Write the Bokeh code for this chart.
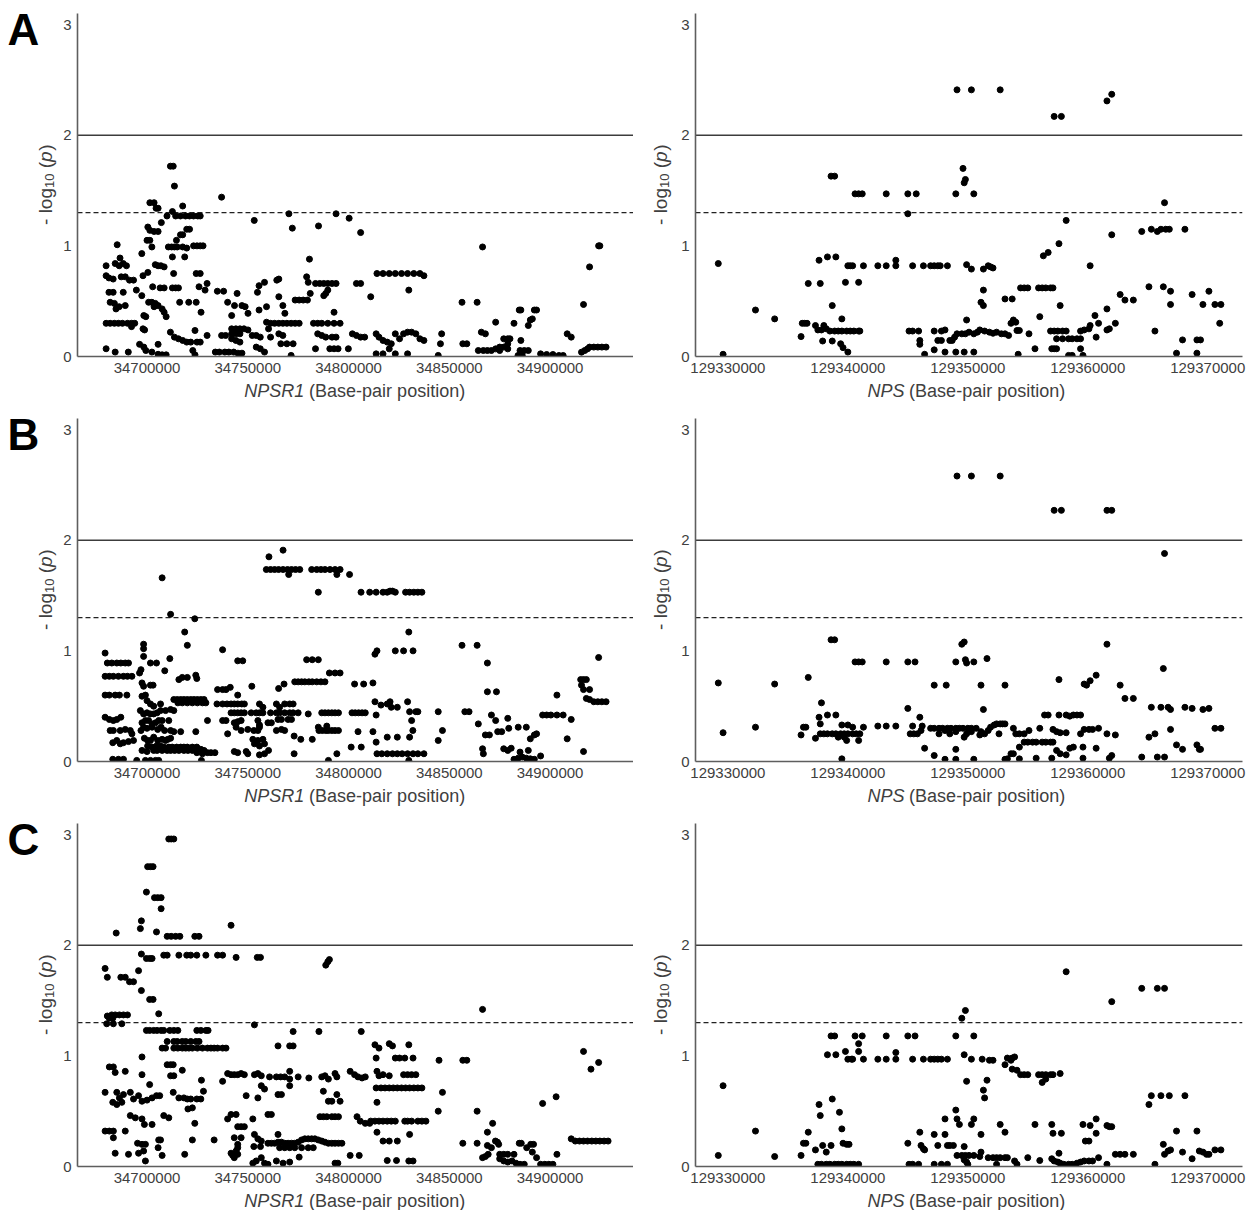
from bokeh.plotting import figure
from bokeh.layouts import row, column
from bokeh.models import Span, FixedTicker, BasicTickFormatter, Range1d, Label
from bokeh.embed import file_html
from bokeh.resources import INLINE
import math

FONT = "Liberation Sans"
TICK_COLOR = "#404040"
AXIS_COLOR = "#5e5e5e"
LABEL_COLOR = "#404040"

# ---------------- axes / reference values ----------------
NPSR1_TICKS = [34700000, 34750000, 34800000, 34850000, 34900000]
NPS_TICKS = [129330000, 129340000, 129350000, 129360000, 129370000]
LOGP_TICKS = [0, 1, 2, 3]
NPSR1_RANGE = (34665500, 34941400)
NPS_RANGE = (129327300, 129372900)
LOGP_RANGE = (0, 3.1)
LINE_P01 = 2.0      # -log10(0.01)
LINE_P05 = 1.301    # -log10(0.05)
PANEL_LETTERS = ["A", "B", "C"]
GENES = ["NPSR1", "NPS"]
X_TITLE_REST = "(Base-pair position)"
Y_TITLE = ["- log", "10", "(", "p", ")"]

# ---------------- data: (position in kb, -log10 p) ----------------
A_NPSR1 = [
(34711.6,1.72),(34713.0,1.72),(34713.6,1.54),(34737.0,1.44),
(34701.4,1.39),(34703.5,1.39),(34704.5,1.34),(34705.5,1.34),(34717.7,1.36),(34712.6,1.31),
(34770.4,1.29),(34793.8,1.29),(34800.3,1.25),(34753.2,1.23),(34806.0,1.12),(34772.1,1.16),(34785.1,1.18),
(34709.9,1.27),(34714.2,1.27),(34716.6,1.27),(34719.1,1.27),(34721.1,1.27),(34723.1,1.27),(34725.2,1.27),(34726.4,1.27),
(34707.1,1.21),(34700.4,1.17),(34701.4,1.14),(34703.5,1.13),(34705.5,1.13),(34700.0,1.05),(34701.4,1.05),(34702.4,0.99),
(34714.6,1.05),(34716.6,1.10),(34717.7,1.10),(34719.7,1.15),(34721.1,1.15),(34718.7,0.90),
(34710.6,0.99),(34712.2,0.99),(34713.6,0.99),(34715.0,0.99),(34717.7,0.99),(34719.7,0.98),
(34723.1,1.0),(34724.8,1.0),(34726.4,1.0),(34727.8,1.0),
(34685.2,1.01),(34697.4,0.93),(34712.6,0.90),(34704.1,0.83),(34705.5,0.82),(34706.9,0.82),(34708.5,0.81),
(34679.7,0.82),(34684.2,0.84),(34686.2,0.82),(34688.2,0.84),(34686.6,0.89),(34689.8,0.82),
(34713.2,0.75),(34724.4,0.75),(34726.4,0.75),
(34679.7,0.73),(34681.1,0.71),(34683.2,0.70),(34687.2,0.72),(34689.2,0.72),(34691.3,0.69),(34693.3,0.69),(34694.7,0.60),(34700.4,0.76),(34698.0,0.73),
(34706.5,0.62),(34708.5,0.62),(34712.6,0.62),(34714.2,0.62),(34715.6,0.62),
(34702.8,0.63),(34725.8,0.63),(34729.8,0.66),(34728.8,0.60),(34734.9,0.59),(34738.0,0.59),
(34681.1,0.58),(34683.2,0.58),(34688.2,0.58),(34697.4,0.55),(34681.7,0.49),(34683.8,0.48),(34686.2,0.45),(34684.6,0.43),(34689.2,0.46),
(34679.7,0.30),(34681.7,0.30),(34683.8,0.30),(34685.8,0.30),(34687.8,0.30),(34690.3,0.30),(34692.3,0.30),(34693.9,0.30),
(34692.3,0.27),(34698.4,0.37),(34699.4,0.36),(34698.0,0.25),(34698.8,0.24),
(34700.8,0.49),(34702.4,0.49),(34704.1,0.48),(34705.5,0.46),(34708.5,0.40),(34709.5,0.36),(34707.5,0.43),(34703.5,0.45),
(34696.3,0.11),(34698.4,0.085),(34699.4,0.054),(34679.7,0.07),(34684.2,0.04),(34690.7,0.04),
(34702.4,0.04),(34705.5,0.02),(34707.5,0.015),(34709.5,0.015),(34705.5,0.11),
(34711.6,0.22),(34713.6,0.175),(34715.6,0.16),(34717.7,0.145),(34719.7,0.13),(34721.7,0.13),(34724.8,0.13),(34726.4,0.13),
(34722.7,0.054),(34723.8,0.015),(34723.8,0.235),(34726.8,0.40),(34729.8,0.19),(34716.2,0.49),(34720.7,0.49),(34724.4,0.49),
(34733.9,0.04),(34735.9,0.04),(34738.6,0.04),(34740.6,0.04),(34743.0,0.04),(34745.1,0.03),(34747.1,0.03),
(34737.0,0.19),(34739.0,0.19),(34740.0,0.49),(34742.0,0.37),(34743.4,0.46),(34744.7,0.57),
(34742.0,0.25),(34744.1,0.25),(34746.1,0.25),(34748.1,0.25),(34750.1,0.24),
(34742.0,0.205),(34744.1,0.205),(34746.1,0.205),(34742.0,0.16),(34744.1,0.145),(34746.1,0.13),
(34747.1,0.46),(34748.7,0.45),(34750.1,0.39),(34752.2,0.19),(34754.2,0.19),(34756.2,0.175),
(34754.8,0.58),(34755.6,0.64),(34758.3,0.67),(34755.6,0.42),(34754.2,0.085),(34756.2,0.07),(34758.3,0.04),
(34759.3,0.45),(34759.3,0.31),(34760.3,0.25),(34761.3,0.175),
(34764.4,0.69),(34765.4,0.70),(34765.4,0.54),(34767.4,0.46),(34768.4,0.39),
(34761.3,0.30),(34763.3,0.30),(34765.4,0.30),(34767.4,0.30),(34769.4,0.30),(34771.5,0.30),(34773.5,0.30),(34775.5,0.30),
(34765.4,0.205),(34767.4,0.19),(34766.4,0.115),(34769.4,0.115),(34772.5,0.115),(34771.5,0.01),
(34773.5,0.51),(34775.5,0.51),(34777.5,0.51),(34779.6,0.51),
(34779.2,0.72),(34780.0,0.67),(34780.6,0.88),(34781.0,0.57),
(34782.6,0.30),(34784.7,0.30),(34786.7,0.30),(34789.7,0.30),(34792.8,0.30),(34795.8,0.30),
(34784.7,0.205),(34786.7,0.19),(34788.7,0.175),(34791.8,0.175),(34793.8,0.175),(34783.6,0.07),
(34787.7,0.55),(34788.7,0.57),(34789.7,0.60),
(34783.6,0.66),(34785.7,0.66),(34787.7,0.66),(34789.7,0.66),(34791.8,0.66),(34793.8,0.66),
(34792.8,0.40),(34790.7,0.07),(34792.8,0.07),(34794.8,0.07),(34799.9,0.07),
(34801.9,0.205),(34803.9,0.19),(34806.0,0.175),(34808.0,0.175),(34803.9,0.66),(34806.0,0.66),(34811.0,0.54),
(34813.7,0.205),(34815.1,0.175),(34817.1,0.145),(34819.2,0.13),(34821.2,0.115),
(34813.7,0.024),(34817.1,0.024),(34820.2,0.069),(34823.2,0.024),
(34814.1,0.75),(34817.1,0.75),(34820.2,0.75),(34823.2,0.75),(34826.3,0.75),(34829.3,0.75),(34832.4,0.75),(34835.4,0.75),(34837.4,0.73),
(34829.9,0.60),(34827.3,0.205),(34829.3,0.22),(34831.3,0.22),(34833.4,0.205),(34835.4,0.16),(34837.4,0.145),(34823.2,0.205),(34825.3,0.16),(34829.3,0.024),
(34844.5,0.01),(34846.2,0.205),(34845.6,0.115),(34856.3,0.49),(34863.8,0.49),(34856.7,0.115),(34858.7,0.115),
(34866.5,0.99),(34865.9,0.22),(34867.9,0.205),
(34864.4,0.054),(34866.9,0.054),(34868.9,0.054),(34870.9,0.054),(34873.0,0.069),(34875.0,0.054),
(34873.0,0.31),(34875.0,0.085),(34877.0,0.085),(34879.0,0.069),(34877.0,0.16),(34879.0,0.16),(34880.1,0.16),(34879.0,0.115),
(34882.1,0.30),(34884.7,0.42),(34885.5,0.42),(34885.5,0.145),(34884.1,0.009),(34886.2,0.009),(34885.1,0.054),(34887.2,0.054),(34889.2,0.054),
(34889.2,0.28),(34890.2,0.33),(34891.2,0.34),(34892.2,0.42),(34893.3,0.42),
(34895.3,0.024),(34898.3,0.018),(34901.4,0.018),(34904.4,0.009),(34906.5,0.009),(34908.5,0.205),(34910.5,0.175),
(34915.6,0.039),(34917.2,0.054),(34918.6,0.069),(34919.6,0.085),(34921.7,0.085),(34923.7,0.085),(34925.7,0.085),(34927.8,0.085),
(34916.6,0.47),(34919.6,0.81),(34924.1,1.0),(34924.7,1.0),
]

A_NPS = [
(129329.2,0.84),(129329.6,0.02),(129332.3,0.42),(129333.9,0.34),(129336.1,0.18),
(129336.2,0.30),(129336.4,0.30),(129336.6,0.30),(129336.7,0.66),(129337.3,0.28),
(129337.6,0.87),(129337.7,0.66),(129337.5,0.24),(129337.8,0.24),(129338.2,0.25),(129338.0,0.28),(129337.9,0.14),
(129338.3,0.90),(129338.7,0.46),(129338.6,1.63),(129338.9,1.63),(129338.7,0.14),
(129338.5,0.23),(129338.9,0.23),(129339.2,0.23),(129339.5,0.23),(129339.9,0.23),(129340.2,0.23),(129340.5,0.23),(129340.9,0.23),(129341.0,0.23),
(129339.0,0.90),(129339.4,0.115),(129339.6,0.08),(129340.0,0.04),(129339.5,0.34),(129339.8,0.67),
(129340.0,0.82),(129340.2,0.82),(129340.4,0.82),(129340.6,1.47),(129340.9,1.47),(129341.2,1.47),(129340.9,0.67),(129341.3,0.82),
(129342.5,0.82),(129343.2,1.47),(129343.2,0.82),(129344.0,0.87),(129344.0,0.82),
(129345.0,1.47),(129345.7,1.47),(129345.0,1.29),
(129345.1,0.23),(129345.4,0.23),(129345.9,0.23),(129346.0,0.145),(129346.0,0.11),
(129345.4,0.82),(129346.3,0.82),(129346.4,0.02),
(129346.9,0.82),(129347.2,0.82),(129347.5,0.82),(129347.7,0.82),(129348.3,0.82),
(129347.2,0.23),(129347.8,0.23),(129348.1,0.24),(129347.5,0.145),(129347.8,0.145),(129347.2,0.06),(129348.1,0.04),
(129348.5,0.145),(129348.7,0.145),(129348.9,0.175),
(129349.0,1.47),(129349.1,2.41),(129349.6,1.70),(129349.7,1.57),(129349.8,1.60),(129350.3,2.41),(129350.5,1.47),
(129349.9,0.83),(129350.3,0.79),(129349.9,0.33),
(129349.0,0.04),(129349.7,0.04),(129350.5,0.04),
(129349.1,0.205),(129349.5,0.205),(129349.8,0.205),(129350.1,0.22),(129350.5,0.205),(129350.8,0.22),(129351.0,0.24),
(129351.1,0.49),(129351.3,0.46),(129351.3,0.60),(129351.3,0.79),(129351.7,0.82),(129351.9,0.81),(129352.1,0.80),
(129351.4,0.23),(129351.8,0.22),(129352.1,0.21),(129352.4,0.22),(129352.8,0.205),(129353.1,0.205),(129353.4,0.19),
(129352.7,2.41),(129353.1,0.52),(129353.7,0.52),(129353.6,0.30),(129353.8,0.33),(129354.0,0.31),
(129354.1,0.235),(129354.3,0.235),(129354.2,0.02),(129355.1,0.205),
(129354.4,0.62),(129354.7,0.62),(129355.0,0.62),(129355.9,0.62),(129356.2,0.62),(129356.5,0.62),(129356.9,0.62),(129357.1,0.62),
(129355.6,0.07),(129356.0,0.36),(129356.3,0.91),(129356.7,0.94),
(129357.2,2.17),(129357.8,2.17),(129357.0,0.07),(129357.2,0.07),(129357.4,0.07),
(129356.9,0.23),(129357.2,0.23),(129357.5,0.23),(129357.9,0.23),(129358.2,0.23),
(129357.6,1.02),(129357.7,0.46),(129358.2,1.23),
(129357.4,0.16),(129357.9,0.16),(129358.4,0.16),(129358.7,0.16),(129359.1,0.16),(129359.4,0.16),
(129358.4,0.01),(129358.7,0.01),(129359.6,0.01),(129359.4,0.07),
(129359.4,0.23),(129359.7,0.24),(129360.1,0.25),(129360.2,0.28),
(129360.2,0.82),(129360.6,0.37),(129360.7,0.175),(129360.9,0.30),
(129361.6,2.31),(129362.0,2.37),(129361.6,0.43),(129361.8,0.25),(129361.6,0.24),(129362.0,1.10),(129362.3,0.30),
(129362.7,0.56),(129363.1,0.51),(129363.8,0.51),
(129364.5,1.13),(129365.1,0.63),(129365.3,1.15),(129365.8,1.13),(129366.1,1.15),(129366.5,1.15),(129366.8,1.15),
(129365.6,0.23),(129366.4,1.39),(129366.3,0.63),(129366.9,0.59),(129366.9,0.47),
(129367.4,0.03),(129367.9,0.15),(129368.1,1.15),(129368.7,0.56),(129369.1,0.15),(129369.4,0.15),(129369.1,0.03),
(129369.6,0.47),(129370.1,0.59),(129370.6,0.47),(129371.1,0.47),(129371.0,0.30),
]

B_NPSR1 = [
(34760.5,1.85),(34767.5,1.91),
(34759.2,1.735),(34761.3,1.735),(34763.3,1.735),(34765.3,1.735),(34767.5,1.735),(34769.7,1.735),(34771.7,1.735),(34773.7,1.735),(34775.8,1.735),
(34781.7,1.735),(34784.2,1.735),(34786.3,1.735),(34788.3,1.735),(34790.8,1.735),(34793.3,1.735),(34795.8,1.735),
(34770.3,1.69),(34794.2,1.69),(34800.5,1.69),(34785.0,1.53),(34806.2,1.53),(34810.5,1.53),
(34707.5,1.66),(34711.7,1.33),(34723.7,1.29),(34718.7,1.17),(34720.0,1.05),(34737.5,1.01),(34679.2,0.98),
(34698.3,1.06),(34698.3,1.02),(34698.3,0.95),
(34680.3,0.89),(34682.5,0.89),(34685.0,0.89),(34687.0,0.89),(34689.2,0.89),(34690.8,0.89),
(34701.7,0.89),(34704.7,0.89),(34711.3,0.93),(34708.8,0.82),(34745.0,0.91),(34747.5,0.91),(34779.2,0.92),(34782.0,0.92),(34785.0,0.92),
(34696.3,0.80),(34697.0,0.83),
(34679.2,0.77),(34681.3,0.77),(34683.3,0.77),(34685.8,0.77),(34688.3,0.77),(34690.3,0.77),(34692.5,0.77),
(34697.5,0.71),(34698.3,0.68),(34701.7,0.69),(34703.0,0.69),
(34715.8,0.74),(34717.5,0.76),(34720.0,0.76),(34724.2,0.78),(34724.7,0.75),
(34790.5,0.80),(34793.3,0.80),(34795.8,0.80),
(34773.3,0.72),(34775.0,0.72),(34776.7,0.72),(34778.3,0.72),(34780.3,0.72),(34782.0,0.72),(34784.2,0.72),(34786.3,0.72),(34788.3,0.72),
(34765.3,0.66),(34768.0,0.70),(34752.0,0.68),(34735.0,0.65),(34737.5,0.65),(34739.2,0.65),(34741.3,0.67),
(34679.2,0.60),(34681.3,0.60),(34684.2,0.60),(34686.3,0.60),(34690.0,0.60),
(34803.0,0.70),(34807.5,0.70),(34697.5,0.59),(34699.2,0.60),
(34713.3,0.56),(34715.0,0.56),(34716.7,0.56),(34718.3,0.56),(34720.0,0.56),(34721.7,0.56),(34723.3,0.56),(34725.0,0.56),(34726.7,0.56),(34728.3,0.56),
(34715.3,0.53),(34717.5,0.53),(34720.0,0.53),(34722.5,0.53),(34725.0,0.53),(34727.5,0.53),(34729.2,0.53),
(34700.0,0.55),(34701.7,0.52),(34703.3,0.50),(34706.7,0.52),
(34734.7,0.52),(34737.5,0.52),(34739.7,0.52),(34741.7,0.52),(34743.3,0.52),(34745.0,0.52),(34747.0,0.52),(34748.3,0.52),
(34745.0,0.60),(34755.8,0.52),(34757.5,0.49),(34764.2,0.52),(34765.8,0.49),(34768.3,0.52),(34770.8,0.52),(34772.5,0.52),
(34741.7,0.44),(34743.3,0.44),(34745.0,0.44),(34746.7,0.44),(34748.3,0.44),
(34751.7,0.44),(34754.2,0.44),(34755.8,0.44),(34757.5,0.44),
(34761.3,0.44),(34764.2,0.44),(34765.8,0.44),(34768.3,0.44),(34770.8,0.44),(34772.5,0.44),(34775.0,0.44),(34780.0,0.43),
(34786.7,0.44),(34788.3,0.44),(34790.0,0.44),(34791.7,0.44),(34793.3,0.44),(34795.0,0.44),
(34801.7,0.44),(34803.3,0.44),(34805.0,0.44),(34806.7,0.44),(34808.3,0.44),
(34679.2,0.40),(34681.3,0.38),(34683.3,0.37),(34685.0,0.38),(34687.0,0.40),
(34696.7,0.46),(34698.3,0.43),(34700.0,0.44),(34701.7,0.43),(34703.3,0.43),(34705.0,0.44),(34706.7,0.46),(34709.2,0.46),(34711.7,0.47),(34713.3,0.46),
(34697.5,0.35),(34699.2,0.37),(34700.8,0.37),(34702.5,0.34),(34704.2,0.35),(34705.8,0.37),(34707.5,0.37),(34710.8,0.37),
(34730.0,0.37),(34737.5,0.37),(34739.2,0.37),(34743.3,0.35),(34745.0,0.36),(34746.7,0.37),(34755.0,0.37),(34755.8,0.33),(34760.0,0.35),(34761.7,0.35),
(34765.0,0.38),(34766.7,0.38),(34770.0,0.38),(34771.7,0.38),
(34681.7,0.28),(34683.3,0.28),(34686.7,0.28),(34689.2,0.29),(34691.7,0.28),(34692.5,0.25),
(34697.0,0.28),(34698.3,0.31),(34700.0,0.30),(34702.5,0.31),(34705.3,0.29),(34707.0,0.31),(34708.7,0.28),(34711.7,0.28),(34713.3,0.27),(34716.7,0.27),
(34724.2,0.27),(34740.0,0.25),(34744.2,0.31),(34746.7,0.28),(34750.0,0.29),(34753.0,0.28),(34755.0,0.28),(34755.8,0.31),
(34764.2,0.28),(34766.7,0.29),(34768.3,0.28),(34773.0,0.23),(34776.3,0.20),(34782.0,0.20),
(34785.3,0.28),(34787.0,0.28),(34788.7,0.28),(34790.0,0.28),(34791.7,0.28),(34793.3,0.28),(34795.0,0.28),(34785.0,0.31),(34789.2,0.32),(34804.7,0.27),
(34683.0,0.17),(34685.0,0.19),(34686.7,0.16),(34688.3,0.17),(34690.8,0.18),(34693.3,0.19),
(34698.7,0.21),(34700.3,0.19),(34701.7,0.19),(34703.3,0.22),(34705.3,0.19),(34707.5,0.20),(34709.2,0.19),(34710.3,0.20),(34711.7,0.21),
(34700.3,0.14),(34702.5,0.13),(34704.7,0.14),(34706.7,0.14),(34708.3,0.13),(34710.8,0.13),(34712.5,0.13),(34714.7,0.13),(34716.7,0.13),(34718.3,0.13),(34720.0,0.13),(34722.5,0.13),(34724.7,0.13),(34726.7,0.11),(34728.3,0.10),
(34697.5,0.10),(34700.0,0.09),(34703.3,0.10),(34705.0,0.10),(34707.5,0.10),(34710.0,0.10),(34711.7,0.10),(34713.7,0.10),(34715.8,0.10),(34718.3,0.10),(34720.3,0.10),(34722.5,0.10),(34724.7,0.08),(34727.5,0.07),
(34730.0,0.08),(34731.7,0.08),(34733.7,0.08),
(34752.5,0.20),(34755.0,0.19),(34757.5,0.20),(34753.3,0.16),(34755.8,0.14),(34758.3,0.16),
(34743.3,0.09),(34745.0,0.08),(34749.2,0.09),(34750.0,0.07),
(34755.8,0.06),(34758.3,0.07),(34760.3,0.10),(34773.0,0.07),(34790.0,0.01),(34794.2,0.07),(34801.3,0.13),(34806.3,0.13),
(34683.0,0.02),(34685.8,0.02),(34688.3,0.02),(34694.9,0.01),(34699.2,0.01),(34701.7,0.01),(34704.2,0.01),(34705.8,0.01),(34727.0,0.01),
(34813.7,1.53),(34817.1,1.53),(34819.2,1.53),(34820.6,1.54),(34821.8,1.54),(34823.2,1.53),(34828.3,1.53),(34830.3,1.53),(34832.4,1.53),(34834.4,1.53),(34836.4,1.53),
(34829.9,1.17),(34813.1,0.97),(34814.1,1.0),(34823.2,1.0),(34827.3,1.0),(34832.0,1.0),
(34812.1,0.71),(34813.1,0.54),(34816.1,0.51),(34819.2,0.52),(34820.6,0.54),(34821.2,0.49),(34824.2,0.49),
(34829.3,0.54),(34830.3,0.45),(34833.4,0.45),(34834.4,0.45),(34831.3,0.37),(34831.9,0.28),(34830.3,0.22),
(34813.7,0.42),(34812.1,0.27),(34813.7,0.175),(34819.2,0.22),(34824.2,0.22),
(34814.1,0.07),(34816.5,0.07),(34819.2,0.07),(34821.8,0.07),(34824.2,0.07),(34826.6,0.07),(34829.3,0.07),(34832.0,0.07),(34834.4,0.07),(34837.4,0.07),
(34829.9,0.01),
(34844.5,0.45),(34846.6,0.28),(34844.5,0.19),(34856.3,1.05),(34863.8,1.05),(34857.7,0.45),(34859.8,0.45),
(34864.4,0.34),(34866.5,0.115),(34866.9,0.07),(34868.9,0.89),(34868.9,0.63),(34873.4,0.63),
(34867.9,0.24),(34869.9,0.24),(34870.9,0.42),(34873.0,0.37),(34874.0,0.27),(34876.0,0.27),
(34877.0,0.115),(34879.0,0.10),(34880.7,0.12),(34879.0,0.39),(34879.5,0.30),(34884.2,0.31),(34888.2,0.31),
(34882.1,0.02),(34884.2,0.03),(34886.2,0.04),(34888.2,0.03),(34890.2,0.024),(34892.2,0.02),
(34885.1,0.085),(34889.2,0.10),(34890.2,0.205),(34892.2,0.24),(34893.3,0.25),(34895.3,0.05),
(34896.3,0.42),(34898.3,0.42),(34900.4,0.42),(34903.4,0.42),(34906.5,0.42),(34903.4,0.60),(34910.5,0.38),(34908.5,0.205),
(34915.2,0.74),(34916.6,0.74),(34918.0,0.74),(34915.6,0.69),(34916.6,0.65),(34919.6,0.65),(34918.0,0.57),(34919.6,0.56),
(34921.7,0.54),(34923.7,0.54),(34925.7,0.54),(34927.8,0.54),(34916.6,0.09),(34924.1,0.94),
]

B_NPS = [
(129349.1,2.58),(129350.3,2.58),(129352.7,2.58),(129357.2,2.27),(129357.8,2.27),(129361.6,2.27),(129362.0,2.27),(129366.4,1.88),
(129338.6,1.10),(129338.9,1.10),(129349.5,1.06),(129349.7,1.08),(129361.6,1.06),
(129340.6,0.90),(129340.9,0.90),(129341.2,0.90),(129343.2,0.90),(129345.0,0.90),(129345.6,0.90),(129349.0,0.90),(129349.8,0.92),(129349.9,0.89),(129350.5,0.90),(129351.6,0.93),
(129329.2,0.71),(129333.9,0.70),(129336.7,0.76),(129347.2,0.69),(129348.2,0.69),(129351.1,0.69),(129353.1,0.69),(129357.6,0.74),
(129359.7,0.70),(129359.9,0.69),(129360.2,0.73),(129360.7,0.78),(129362.7,0.69),(129363.1,0.57),(129363.8,0.57),(129366.3,0.84),
(129365.3,0.49),(129366.1,0.49),(129366.7,0.49),(129366.9,0.47),(129368.1,0.49),(129368.7,0.48),(129369.6,0.47),(129370.1,0.48),
(129370.6,0.30),(129371.1,0.30),(129366.9,0.29),(129365.1,0.22),(129365.6,0.25),(129367.4,0.15),(129367.9,0.11),
(129369.1,0.15),(129369.3,0.11),(129369.4,0.11),(129364.5,0.04),(129365.8,0.04),(129366.4,0.04),
(129329.6,0.26),(129332.3,0.31),(129336.1,0.24),(129336.3,0.31),(129336.5,0.31),(129337.3,0.21),(129337.6,0.40),(129337.7,0.34),(129337.8,0.53),(129338.3,0.42),(129339.0,0.42),
(129337.7,0.25),(129338.0,0.25),(129338.3,0.25),(129338.7,0.25),(129339.0,0.25),(129339.4,0.25),(129339.7,0.25),(129340.0,0.25),(129340.4,0.25),(129340.7,0.25),(129341.0,0.25),
(129339.5,0.33),(129340.0,0.33),(129340.4,0.31),(129339.2,0.22),(129339.7,0.22),(129339.9,0.19),(129340.9,0.19),(129339.5,0.024),
(129341.3,0.31),(129342.5,0.32),(129343.2,0.32),(129344.0,0.32),(129345.0,0.48),(129346.0,0.40),
(129345.2,0.25),(129345.5,0.25),(129345.8,0.25),(129346.1,0.28),(129345.4,0.32),(129346.2,0.32),(129346.4,0.12),(129347.2,0.054),
(129348.1,0.02),(129349.0,0.02),(129350.5,0.02),(129349.0,0.11),
(129346.9,0.30),(129347.2,0.30),(129347.6,0.30),(129347.9,0.30),(129348.3,0.30),(129348.6,0.30),(129349.0,0.30),(129349.3,0.30),(129349.6,0.30),(129350.0,0.30),(129350.3,0.30),(129350.7,0.30),
(129347.6,0.25),(129348.1,0.28),(129348.5,0.25),(129349.0,0.27),(129349.7,0.22),(129349.9,0.25),(129350.3,0.27),(129351.0,0.24),(129351.1,0.27),(129351.4,0.25),(129351.3,0.47),
(129351.7,0.28),(129351.9,0.31),(129352.2,0.33),(129352.4,0.34),(129352.7,0.34),(129352.9,0.34),(129353.1,0.34),(129352.6,0.25),
(129353.1,0.02),(129353.3,0.024),(129353.6,0.07),(129353.8,0.07),
(129353.8,0.30),(129354.0,0.25),(129354.3,0.25),(129354.7,0.25),
(129354.3,0.13),(129354.7,0.175),(129355.0,0.175),(129355.4,0.175),(129355.7,0.175),(129354.3,0.024),(129355.1,0.28),(129355.7,0.03),
(129356.0,0.30),(129356.4,0.42),(129356.7,0.42),(129356.2,0.175),(129356.5,0.175),(129356.9,0.175),(129357.1,0.175),(129357.0,0.03),
(129357.1,0.29),(129357.4,0.27),(129357.7,0.26),(129358.2,0.26),(129357.4,0.10),(129357.7,0.07),(129358.2,0.06),
(129357.6,0.42),(129358.2,0.42),(129358.5,0.41),(129358.8,0.42),(129359.1,0.42),(129359.4,0.42),
(129358.5,0.12),(129358.8,0.13),(129359.6,0.03),(129359.6,0.13),
(129359.4,0.25),(129359.7,0.29),(129360.1,0.29),(129360.4,0.29),(129360.9,0.30),(129360.7,0.12),
(129361.6,0.25),(129362.3,0.24),(129361.8,0.03),(129362.0,0.054),
]

C_NPSR1 = [
(34710.8,2.96),(34712.0,2.96),(34713.3,2.96),
(34700.3,2.71),(34701.7,2.71),(34703.0,2.71),
(34699.7,2.48),(34703.7,2.43),(34705.3,2.43),(34707.0,2.43),(34707.0,2.33),
(34697.2,2.22),(34696.7,2.15),(34684.7,2.11),(34704.7,2.12),
(34710.0,2.08),(34712.0,2.08),(34714.2,2.08),(34716.3,2.08),(34723.7,2.08),(34725.8,2.08),(34741.7,2.18),
(34697.2,1.92),(34699.7,1.88),(34701.3,1.88),(34702.5,1.88),
(34708.3,1.91),(34710.0,1.91),(34715.8,1.91),(34719.7,1.91),(34721.7,1.91),(34724.7,1.91),(34729.2,1.91),(34735.0,1.91),(34737.5,1.91),
(34744.2,1.89),(34754.7,1.89),(34756.3,1.89),(34788.7,1.82),(34789.7,1.85),(34790.5,1.87),
(34679.2,1.79),(34680.3,1.71),(34687.0,1.71),(34689.2,1.71),(34691.3,1.67),(34693.3,1.67),(34695.8,1.77),(34697.2,1.59),
(34701.3,1.51),(34703.0,1.51),(34705.8,1.38),
(34680.3,1.36),(34682.5,1.37),(34684.2,1.37),(34686.3,1.37),(34688.3,1.37),(34690.3,1.37),(34681.3,1.34),(34683.0,1.34),
(34680.0,1.29),(34683.3,1.29),(34687.5,1.29),(34753.3,1.28),
(34699.7,1.23),(34701.3,1.23),(34703.3,1.23),(34705.0,1.23),(34707.0,1.23),(34708.3,1.23),(34711.3,1.23),(34713.3,1.23),(34715.3,1.23),(34724.7,1.23),(34726.7,1.23),(34729.2,1.23),(34730.3,1.23),
(34772.5,1.22),(34785.3,1.22),(34806.3,1.22),
(34710.0,1.13),(34713.3,1.13),(34715.0,1.13),(34717.5,1.13),(34719.2,1.13),(34721.7,1.13),(34724.2,1.13),(34725.8,1.13),
(34707.5,1.07),(34709.2,1.07),(34713.3,1.07),(34715.3,1.07),(34717.5,1.07),(34719.2,1.07),(34720.8,1.07),(34722.5,1.07),(34725.0,1.07),(34727.5,1.07),(34730.0,1.07),(34731.7,1.07),(34733.3,1.07),(34735.0,1.07),(34737.5,1.07),(34739.2,1.07),
(34765.0,1.09),(34770.8,1.09),(34772.5,1.09),
(34697.5,0.99),(34710.0,0.92),(34711.7,0.92),(34713.0,0.92),(34711.7,0.82),(34713.3,0.82),
(34681.3,0.90),(34683.3,0.90),(34684.2,0.85),(34689.2,0.86),(34697.5,0.83),(34717.5,0.87),
(34740.0,0.84),(34741.7,0.83),(34743.3,0.83),(34745.0,0.83),(34746.7,0.84),(34748.3,0.83),
(34753.3,0.83),(34755.0,0.84),(34756.7,0.82),
(34760.8,0.81),(34764.2,0.81),(34766.3,0.81),(34768.3,0.81),(34770.8,0.86),(34770.8,0.79),(34775.0,0.81),(34780.3,0.80),
(34786.7,0.81),(34788.3,0.82),(34790.0,0.79),(34793.3,0.84),(34794.2,0.81),
(34800.8,0.86),(34803.0,0.83),(34804.7,0.81),(34806.7,0.80),(34808.3,0.81),
(34727.0,0.78),(34737.5,0.77),
(34679.2,0.67),(34685.0,0.67),(34688.3,0.65),(34691.7,0.67),(34693.3,0.61),(34695.8,0.64),(34697.5,0.59),(34700.0,0.60),(34702.5,0.62),(34704.7,0.64),(34706.3,0.64),
(34686.3,0.62),(34683.0,0.58),(34685.0,0.56),(34687.5,0.58),
(34701.3,0.74),(34713.0,0.67),
(34715.8,0.62),(34718.3,0.62),(34720.0,0.61),(34721.7,0.61),(34724.7,0.61),(34726.7,0.61),(34728.0,0.68),
(34720.3,0.52),(34722.5,0.53),
(34749.2,0.64),(34755.0,0.62),(34756.7,0.73),(34758.3,0.70),(34765.0,0.65),(34766.7,0.65),(34770.8,0.73),
(34787.5,0.68),(34790.0,0.59),(34791.7,0.59),(34794.2,0.65),(34795.8,0.59),
(34691.7,0.46),(34694.2,0.44),(34697.5,0.43),(34698.7,0.38),(34702.5,0.38),
(34708.3,0.46),(34710.8,0.44),(34723.7,0.39),
(34740.0,0.43),(34741.7,0.47),(34744.2,0.47),(34752.5,0.43),(34760.0,0.47),(34761.7,0.47),
(34745.0,0.36),(34746.7,0.36),(34748.3,0.36),
(34785.8,0.45),(34787.5,0.45),(34789.2,0.45),(34791.7,0.45),(34793.3,0.45),(34795.0,0.45),
(34804.2,0.45),(34805.8,0.41),(34808.3,0.39),(34810.5,0.39),
(34679.2,0.32),(34681.3,0.32),(34683.3,0.32),(34689.2,0.32),(34683.3,0.26),
(34695.3,0.21),(34697.5,0.20),(34699.2,0.20),(34705.8,0.24),(34706.7,0.24),(34698.3,0.14),(34699.2,0.05),
(34684.2,0.12),(34690.8,0.11),(34695.8,0.12),(34705.5,0.17),(34707.5,0.10),(34718.7,0.11),(34722.5,0.24),(34733.3,0.24),
(34743.3,0.26),(34746.7,0.26),(34745.0,0.20),(34745.0,0.17),
(34741.7,0.12),(34742.5,0.10),(34743.3,0.08),(34745.0,0.11),(34744.2,0.14),
(34753.3,0.29),(34755.0,0.25),(34756.7,0.23),(34760.0,0.21),(34761.7,0.21),(34763.3,0.21),(34765.0,0.22),(34766.7,0.22),(34768.3,0.21),(34770.0,0.21),(34771.7,0.21),(34773.3,0.21),(34775.0,0.22),(34776.7,0.24),(34778.3,0.25),(34780.0,0.25),(34781.7,0.25),(34783.3,0.25),(34785.0,0.24),(34786.7,0.23),(34788.3,0.22),(34790.0,0.21),(34791.7,0.21),(34793.3,0.21),(34795.0,0.21),(34796.7,0.21),
(34765.0,0.29),
(34753.0,0.18),(34756.3,0.18),(34765.8,0.17),(34768.3,0.17),(34770.8,0.17),(34773.3,0.17),(34776.7,0.17),(34780.0,0.17),(34782.5,0.17),
(34752.5,0.03),(34754.2,0.05),(34756.7,0.08),(34758.3,0.03),(34760.0,0.02),(34764.2,0.05),(34767.5,0.03),(34770.8,0.04),
(34775.5,0.085),(34793.3,0.03),(34794.7,0.03),(34800.8,0.10),(34805.3,0.10),
(34866.5,1.42),(34813.1,1.10),(34815.1,1.07),(34813.7,0.98),(34820.2,1.11),(34821.8,1.09),
(34823.2,0.98),(34825.3,0.98),(34827.9,0.98),(34832.0,0.98),(34829.9,1.10),(34844.9,0.96),(34856.7,0.96),(34858.7,0.96),
(34814.1,0.86),(34815.1,0.82),(34817.1,0.83),(34820.2,0.82),(34827.3,0.83),(34829.3,0.83),(34831.3,0.83),(34833.4,0.83),
(34813.7,0.71),(34816.1,0.71),(34818.1,0.71),(34820.2,0.71),(34822.2,0.71),(34824.2,0.71),(34826.3,0.71),(34828.3,0.71),(34830.3,0.71),(34832.4,0.71),(34834.4,0.71),(34836.4,0.71),
(34814.1,0.58),(34846.6,0.67),(34844.5,0.50),(34863.8,0.50),
(34811.0,0.41),(34813.1,0.41),(34815.1,0.41),(34817.1,0.41),(34819.2,0.41),(34821.2,0.41),(34823.2,0.41),
(34827.9,0.41),(34829.3,0.41),(34831.3,0.41),(34834.4,0.41),(34836.4,0.41),(34838.4,0.41),
(34814.1,0.31),(34817.1,0.23),(34820.2,0.23),(34824.2,0.23),(34830.3,0.29),
(34819.2,0.054),(34823.8,0.054),(34829.9,0.05),(34832.0,0.05),
(34856.7,0.21),(34863.8,0.21),(34868.9,0.19),(34868.9,0.31),(34871.5,0.39),
(34872.9,0.23),(34873.9,0.22),(34874.5,0.20),(34866.5,0.08),(34867.9,0.09),(34869.3,0.11),(34870.9,0.17),
(34875.0,0.11),(34877.0,0.11),(34879.0,0.11),
(34875.0,0.07),(34877.0,0.05),(34879.0,0.04),(34881.1,0.05),(34883.1,0.03),(34885.1,0.02),(34887.2,0.02),
(34882.1,0.11),(34884.7,0.21),(34885.7,0.21),(34888.4,0.17),(34890.4,0.20),(34891.8,0.20),(34891.2,0.13),(34893.3,0.08),
(34895.3,0.02),(34897.4,0.02),(34899.4,0.02),(34901.4,0.02),
(34896.3,0.57),(34903.0,0.63),(34903.4,0.11),(34910.5,0.25),
(34912.5,0.23),(34914.6,0.23),(34916.6,0.23),(34918.6,0.23),(34920.7,0.23),(34922.7,0.23),(34924.7,0.23),(34926.8,0.23),(34928.8,0.23),
(34916.6,1.04),(34920.3,0.88),(34924.1,0.94),
]

C_NPS = [
(129329.2,0.10),(129329.6,0.73),(129332.3,0.32),(129333.9,0.09),(129336.1,0.10),
(129336.3,0.21),(129336.5,0.21),(129336.7,0.31),(129337.3,0.15),(129337.6,0.56),(129337.7,0.46),(129337.9,0.19),(129338.2,0.13),
(129338.3,1.01),(129339.0,1.01),(129338.6,1.18),(129338.9,1.18),(129338.7,0.61),(129338.6,0.19),
(129337.5,0.02),(129337.8,0.02),(129338.2,0.02),(129338.5,0.02),(129338.9,0.02),(129339.2,0.02),(129339.5,0.02),(129339.9,0.02),(129340.2,0.02),(129340.5,0.02),(129340.9,0.02),
(129339.3,0.49),(129339.5,0.34),(129339.6,0.21),(129339.9,0.20),(129340.1,0.20),
(129339.8,1.04),(129340.0,0.97),(129340.3,0.97),(129340.4,0.97),(129340.6,1.18),(129341.2,1.18),(129340.9,1.11),(129340.9,1.04),(129341.3,0.97),
(129342.5,0.97),(129343.2,1.18),(129343.2,0.97),(129344.0,0.97),(129344.0,1.03),
(129345.0,1.18),(129345.6,1.18),(129345.0,0.21),(129345.4,0.97),(129346.3,0.97),
(129346.9,0.97),(129347.2,0.97),(129347.5,0.97),(129347.8,0.97),(129348.3,0.97),
(129345.1,0.02),(129345.4,0.02),(129345.9,0.02),(129346.0,0.31),(129346.1,0.19),(129346.3,0.16),(129346.4,0.15),
(129347.2,0.29),(129348.1,0.43),(129348.1,0.29),(129347.5,0.19),(129348.3,0.19),(129348.5,0.19),(129348.8,0.19),
(129347.2,0.02),(129347.8,0.02),(129348.3,0.02),
(129349.0,1.18),(129349.5,1.34),(129349.8,1.41),(129349.7,1.01),(129349.9,0.77),(129350.3,0.97),(129350.5,1.18),
(129349.0,0.51),(129349.1,0.43),(129349.3,0.38),(129350.5,0.43),(129350.3,0.38),(129349.7,0.18),
(129349.1,0.10),(129349.5,0.10),(129349.8,0.10),(129350.1,0.10),(129350.5,0.10),(129349.7,0.06),(129349.9,0.04),(129350.0,0.02),
(129351.0,0.09),(129351.1,0.13),(129351.1,0.29),(129351.3,0.69),(129351.4,0.62),(129351.6,0.78),(129351.2,0.97),(129351.8,0.96),(129352.1,0.96),
(129351.7,0.08),(129352.1,0.08),(129352.4,0.08),(129352.7,0.08),(129353.1,0.08),(129353.3,0.08),(129352.4,0.02),
(129352.7,0.38),(129353.1,0.31),(129353.1,0.92),(129353.3,0.98),(129353.6,0.96),(129353.7,0.98),(129353.9,0.99),(129353.7,0.88),
(129354.1,0.87),(129354.4,0.83),(129354.7,0.83),(129355.0,0.83),(129353.9,0.05),(129354.1,0.02),(129355.0,0.08),
(129355.6,0.38),(129356.0,0.054),
(129355.9,0.83),(129356.2,0.83),(129356.5,0.83),(129356.9,0.83),(129357.1,0.83),(129356.2,0.76),(129356.5,0.79),(129357.7,0.84),
(129357.0,0.38),(129357.1,0.30),(129357.8,0.30),
(129357.0,0.07),(129357.2,0.05),(129357.5,0.04),(129357.7,0.03),(129358.0,0.02),(129358.4,0.02),(129358.7,0.02),(129359.1,0.03),(129359.4,0.04),(129359.7,0.05),(129360.1,0.05),(129360.4,0.05),
(129357.6,0.12),(129358.2,1.76),(129359.6,0.38),(129359.8,0.23),(129360.1,0.23),(129360.2,0.37),(129360.7,0.43),(129360.7,0.30),(129360.9,0.08),(129361.6,0.02),
(129361.6,0.37),(129361.8,0.36),(129362.0,0.36),(129362.0,1.49),
(129362.3,0.11),(129362.7,0.11),(129363.1,0.11),(129363.8,0.11),
(129364.5,1.61),(129365.1,0.56),(129365.3,0.64),(129365.6,0.02),(129365.8,1.61),(129366.4,1.61),(129366.1,0.64),(129366.8,0.64),
(129366.3,0.20),(129366.4,0.11),(129366.7,0.14),(129366.9,0.15),(129367.4,0.32),(129367.9,0.13),(129368.1,0.64),
(129368.7,0.07),(129369.1,0.32),(129369.3,0.14),(129369.6,0.13),(129369.9,0.11),(129370.1,0.11),(129370.6,0.15),(129371.1,0.15),
]

# ---------------- layout geometry (pixels) ----------------
ROW_HEIGHTS = [405, 405, 400]
TOP, FRAME_H, BOTTOM = 13, 343, 24
PLOT_H = TOP + FRAME_H + BOTTOM
GUTTER_L, GUTTER_R = 58, 40
LEFT_L, FRAME_WL, RIGHT_L = 19, 556, 0
LEFT_R, FRAME_WR, RIGHT_R = 22, 547, 11


def blank(w, h):
    f = figure(width=w, height=h, output_backend="svg", toolbar_location=None,
               x_range=Range1d(0, w), y_range=Range1d(0, h),
               x_axis_location=None, y_axis_location=None, min_border=0)
    f.outline_line_color = None
    f.grid.visible = False
    return f


def txt(f, x, y, text, size, angle=0.0, align="left", baseline="middle",
        style="normal", color=LABEL_COLOR):
    f.add_layout(Label(x=x, y=y, text=text, text_font=FONT, text_font_size=size,
                       text_font_style=style, text_color=color, text_align=align,
                       text_baseline=baseline, angle=angle))


def gutter(w, h, center_x, letter=None):
    f = blank(w, h)
    a = math.pi / 2
    fs, ss = 19, 13
    w_log, w_sub, w_gap, w_par, w_p = 1.945 * fs, 1.112 * ss, 0.278 * fs, 0.333 * fs, 0.556 * fs
    total = w_log + w_sub + w_gap + 2 * w_par + w_p
    yc = h - (TOP + FRAME_H / 2)
    s = yc - total / 2
    txt(f, center_x, s, Y_TITLE[0], f"{fs}px", angle=a)
    s += w_log
    txt(f, center_x + 4, s, Y_TITLE[1], f"{ss}px", angle=a)
    s += w_sub + w_gap
    txt(f, center_x, s, Y_TITLE[2], f"{fs}px", angle=a)
    s += w_par
    txt(f, center_x, s, Y_TITLE[3], f"{fs}px", angle=a, style="italic")
    s += w_p + 0.5
    txt(f, center_x, s, Y_TITLE[4], f"{fs}px", angle=a)
    if letter:
        txt(f, 7, h - 29, letter, "44px", baseline="alphabetic", style="bold", color="black")
    return f


def xtitle(w, h, left, frame_w, gene, gene_w):
    f = blank(w, h)
    cx = left + frame_w / 2
    anchor = cx - (gene_w + 161) / 2 + gene_w - 12
    txt(f, anchor, h - 10, gene, "18px", align="right", style="italic")
    txt(f, anchor + 5, h - 10, X_TITLE_REST, "18px", align="left")
    return f


def plot(points, xr, ticks, left, frame_w, right):
    xs = [p[0] * 1000 for p in points]
    ys = [p[1] for p in points]
    f = figure(width=left + frame_w + right, height=PLOT_H, output_backend="svg",
               toolbar_location=None, x_range=Range1d(*xr), y_range=Range1d(*LOGP_RANGE),
               min_border_left=left, min_border_right=right,
               min_border_top=TOP, min_border_bottom=BOTTOM)
    f.outline_line_color = None
    f.grid.visible = False
    f.add_layout(Span(location=LINE_P01, dimension="width", line_color="#3c3c3c",
                      line_width=1.6, level="underlay"))
    f.add_layout(Span(location=LINE_P05, dimension="width", line_color="#222222",
                      line_width=1.2, line_dash="5 3", level="underlay"))
    f.scatter(xs, ys, size=6, color="black")
    for ax in (f.xaxis[0], f.yaxis[0]):
        ax.axis_line_color = AXIS_COLOR
        ax.axis_line_width = 1.6
        ax.major_tick_line_color = None
        ax.minor_tick_line_color = None
        ax.major_tick_in = 0
        ax.major_tick_out = 0
        ax.minor_tick_in = 0
        ax.minor_tick_out = 0
        ax.major_label_text_font = FONT
        ax.major_label_text_font_size = "15px"
        ax.major_label_text_color = TICK_COLOR
        ax.major_label_standoff = 6
    f.xaxis.ticker = FixedTicker(ticks=ticks)
    f.xaxis.formatter = BasicTickFormatter(use_scientific=False)
    f.yaxis.ticker = FixedTicker(ticks=LOGP_TICKS)
    return f


rows = []
for i, (left_pts, right_pts) in enumerate(((A_NPSR1, A_NPS), (B_NPSR1, B_NPS), (C_NPSR1, C_NPS))):
    h = ROW_HEIGHTS[i]
    xh = h - PLOT_H
    wl = LEFT_L + FRAME_WL + RIGHT_L
    wr = LEFT_R + FRAME_WR + RIGHT_R
    g1 = gutter(GUTTER_L, h, 45, PANEL_LETTERS[i])
    c1 = column(plot(left_pts, NPSR1_RANGE, NPSR1_TICKS, LEFT_L, FRAME_WL, RIGHT_L),
                xtitle(wl, xh, LEFT_L, FRAME_WL, GENES[0], 60))
    g2 = gutter(GUTTER_R, h, 27)
    c2 = column(plot(right_pts, NPS_RANGE, NPS_TICKS, LEFT_R, FRAME_WR, RIGHT_R),
                xtitle(wr, xh, LEFT_R, FRAME_WR, GENES[1], 37))
    rows.append(row(g1, c1, g2, c2))

p = column(*rows)

open("out.html", "w").write(file_html(p, INLINE))
